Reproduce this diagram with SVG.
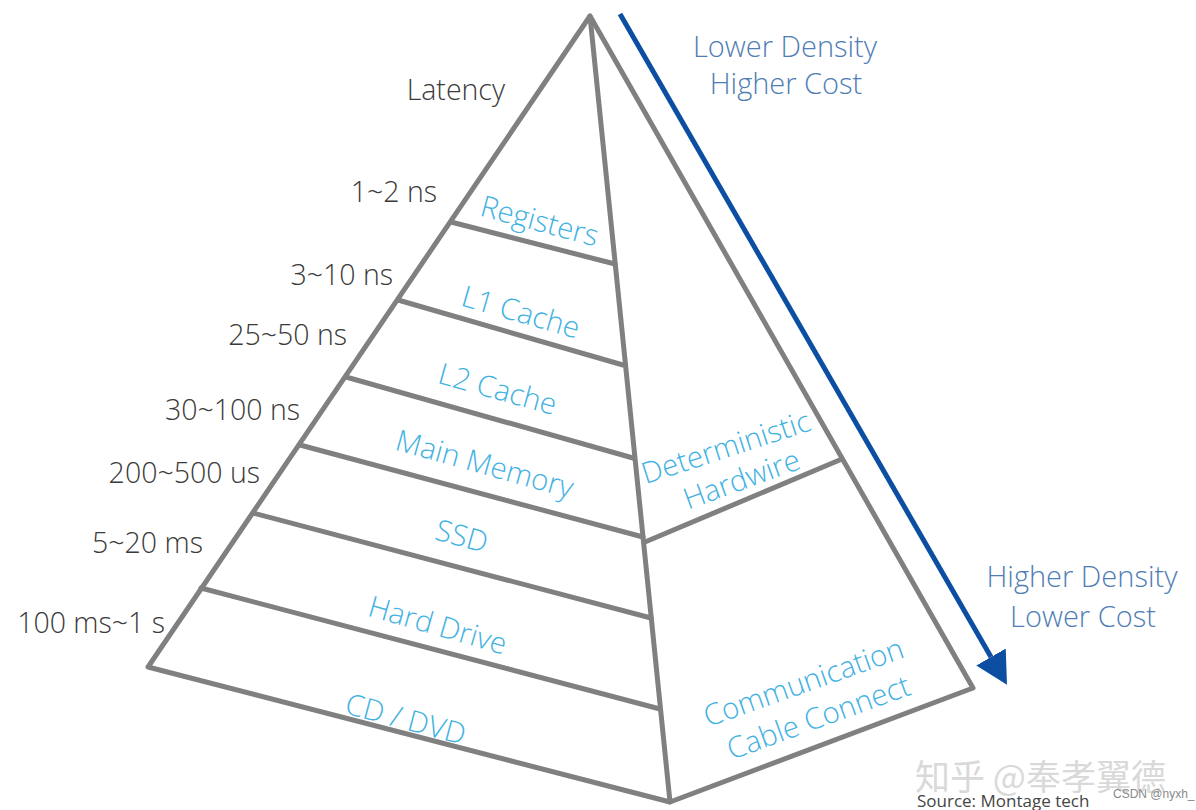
<svg xmlns="http://www.w3.org/2000/svg" width="1196" height="810" viewBox="0 0 1196 810">
  <style>
    .edge { fill: none; stroke: #808080; stroke-width: 5; stroke-linejoin: round; stroke-linecap: round; }
    .lat { font-family: "Open Sans", "Noto Sans", sans-serif; font-weight: 300; font-size: 28.5px; fill: #3a3a3a; text-anchor: end; }
    .lbl { font-family: "Open Sans", "Noto Sans", sans-serif; font-weight: 300; font-size: 29.5px; fill: #42b2e2; text-anchor: middle; }
    .side { font-family: "Open Sans", "Noto Sans", sans-serif; font-weight: 300; font-size: 29px; fill: #4f7db4; text-anchor: middle; }
    .arrow { fill: none; stroke: #0b4ea2; stroke-width: 5; }
  </style>
  <defs>
    <marker id="ah" markerUnits="userSpaceOnUse" viewBox="0 0 32 34" refX="0" refY="17" markerWidth="32" markerHeight="34" orient="auto">
      <path d="M0,0 L32,17 L0,34 Z" fill="#0b4ea2"/>
    </marker>
  </defs>
  <rect width="1196" height="810" fill="#ffffff"/>

  <g id="pyramid">
    <polygon class="edge" points="590,16 148,667 670,802 973,688"/>
    <line class="edge" x1="590" y1="16" x2="670" y2="802"/>
  </g>

  <g id="connectors">
    <line class="edge" x1="451" y1="222" x2="615" y2="264"/>
    <line class="edge" x1="398" y1="300" x2="623" y2="365"/>
    <line class="edge" x1="346" y1="377" x2="633" y2="458"/>
    <line class="edge" x1="300" y1="445" x2="643" y2="537"/>
    <line class="edge" x1="253" y1="513" x2="651" y2="618"/>
    <line class="edge" x1="201" y1="588" x2="660" y2="709"/>
    <line class="edge" x1="645" y1="542" x2="842" y2="459"/>
    <line class="arrow" x1="620" y1="14" x2="991" y2="657" marker-end="url(#ah)"/>
  </g>

  <g id="latency">
    <text class="lat" x="505" y="100">Latency</text>
    <text class="lat" x="437" y="202">1~2 ns</text>
    <text class="lat" x="393" y="285">3~10 ns</text>
    <text class="lat" x="347" y="345">25~50 ns</text>
    <text class="lat" x="300" y="420">30~100 ns</text>
    <text class="lat" x="260" y="483">200~500 us</text>
    <text class="lat" x="203" y="553">5~20 ms</text>
    <text class="lat" x="165" y="633">100 ms~1 s</text>
  </g>

  <g id="registers"><text class="lbl" transform="translate(537,231) rotate(15)">Registers</text></g>
  <g id="l1-cache"><text class="lbl" transform="translate(518,322) rotate(16)">L1 Cache</text></g>
  <g id="l2-cache"><text class="lbl" transform="translate(495,399) rotate(15.5)">L2 Cache</text></g>
  <g id="main-memory"><text class="lbl" transform="translate(482,474) rotate(15.5)">Main Memory</text></g>
  <g id="ssd"><text class="lbl" transform="translate(459,546) rotate(15.5)">SSD</text></g>
  <g id="hard-drive"><text class="lbl" transform="translate(435,635) rotate(16)">Hard Drive</text></g>
  <g id="cd-dvd"><text class="lbl" transform="translate(403,729) rotate(15)">CD / DVD</text></g>
  <g id="hardwire">
    <text class="lbl" transform="translate(729,457) rotate(-18)">Deterministic</text>
    <text class="lbl" transform="translate(745,489) rotate(-20)">Hardwire</text>
  </g>
  <g id="communication">
    <text class="lbl" transform="translate(807,692) rotate(-19.5)">Communication</text>
    <text class="lbl" transform="translate(822,727) rotate(-20)">Cable Connect</text>
  </g>

  <g id="density-top">
    <text class="side" x="785" y="57">Lower Density</text>
    <text class="side" x="786" y="94">Higher Cost</text>
  </g>
  <g id="density-bottom">
    <text class="side" x="1082" y="587">Higher Density</text>
    <text class="side" x="1083" y="627">Lower Cost</text>
  </g>

  <g id="credits">
    <text x="915" y="790" font-family="'Noto Sans CJK SC', sans-serif" font-size="35" fill="#d9d9d9">知乎 @奉孝翼德</text>
    <text x="917" y="807" font-family="'Open Sans', sans-serif" font-size="17" fill="#454545">Source:  Montage tech</text>
    <text x="1113" y="798" font-family="'Liberation Sans', sans-serif" font-size="12" fill="#8a8a8a">CSDN @nyxh_</text>
  </g>
</svg>
